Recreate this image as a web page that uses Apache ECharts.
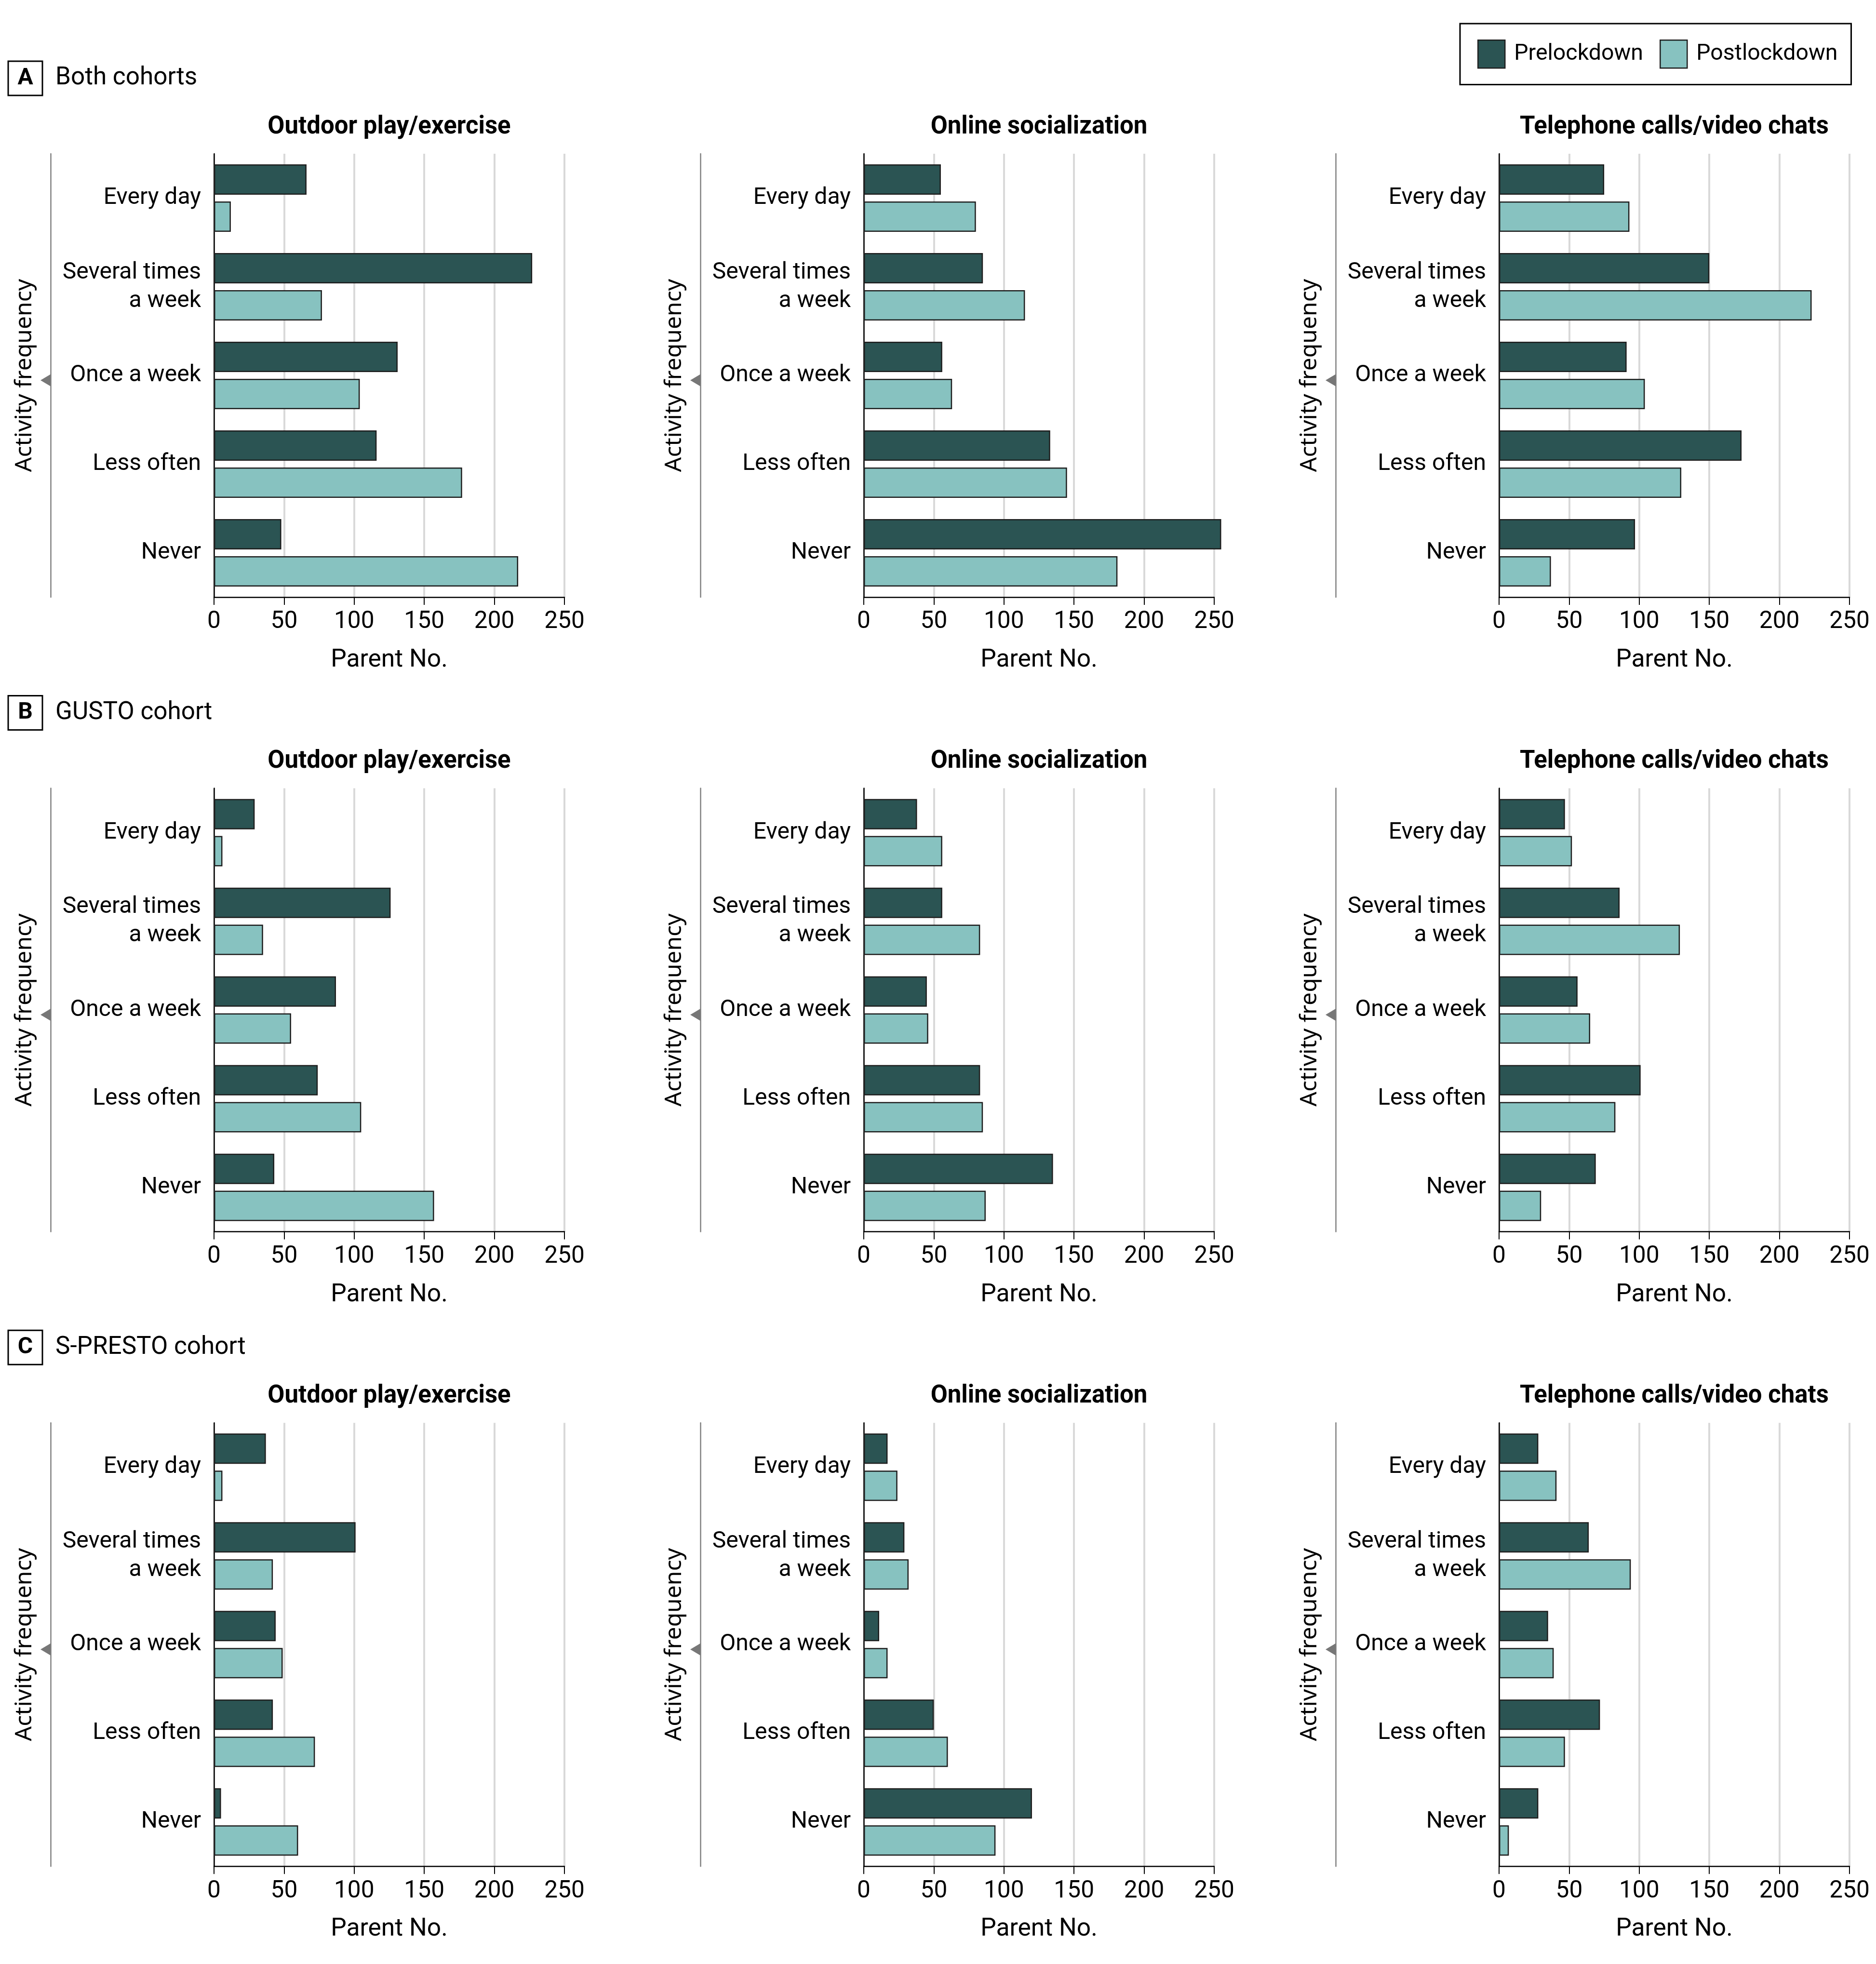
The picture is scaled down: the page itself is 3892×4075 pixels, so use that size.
<!DOCTYPE html>
<html><head><meta charset="utf-8">
<script src="https://cdn.jsdelivr.net/npm/echarts@6/dist/echarts.min.js"></script>
<style>html,body{margin:0;padding:0;background:#fff}#c{width:3892px;height:4075px}</style>
</head><body><div id="c"></div>
<script>
// ---------- data ----------
const categories = ['Every day', 'Several times\na week', 'Once a week', 'Less often', 'Never'];
const activities = ['Outdoor play/exercise', 'Online socialization', 'Telephone calls/video chats'];
const cohortLetters = ['A', 'B', 'C'];
const cohortNames = ['Both cohorts', 'GUSTO cohort', 'S-PRESTO cohort'];
const seriesNames = ['Prelockdown', 'Postlockdown'];
const xTicks = [0, 50, 100, 150, 200, 250];

const bothOutdoorPre   = [66, 227, 131, 116, 48];
const bothOutdoorPost  = [12, 77, 104, 177, 217];
const bothOnlinePre    = [55, 85, 56, 133, 255];
const bothOnlinePost   = [80, 115, 63, 145, 181];
const bothPhonePre     = [75, 150, 91, 173, 97];
const bothPhonePost    = [93, 223, 104, 130, 37];

const gustoOutdoorPre  = [29, 126, 87, 74, 43];
const gustoOutdoorPost = [6, 35, 55, 105, 157];
const gustoOnlinePre   = [38, 56, 45, 83, 135];
const gustoOnlinePost  = [56, 83, 46, 85, 87];
const gustoPhonePre    = [47, 86, 56, 101, 69];
const gustoPhonePost   = [52, 129, 65, 83, 30];

const sprestoOutdoorPre  = [37, 101, 44, 42, 5];
const sprestoOutdoorPost = [6, 42, 49, 72, 60];
const sprestoOnlinePre   = [17, 29, 11, 50, 120];
const sprestoOnlinePost  = [24, 32, 17, 60, 94];
const sprestoPhonePre    = [28, 64, 35, 72, 28];
const sprestoPhonePost   = [41, 94, 39, 47, 7];

const panelData = [
  [[bothOutdoorPre, bothOutdoorPost], [bothOnlinePre, bothOnlinePost], [bothPhonePre, bothPhonePost]],
  [[gustoOutdoorPre, gustoOutdoorPost], [gustoOnlinePre, gustoOnlinePost], [gustoPhonePre, gustoPhonePost]],
  [[sprestoOutdoorPre, sprestoOutdoorPost], [sprestoOnlinePre, sprestoOnlinePost], [sprestoPhonePre, sprestoPhonePost]]
];

// ---------- pick an installed condensed font that has a regular face ----------
const cv = document.createElement('canvas');
const cx = cv.getContext('2d');
function textW(font, t) { cx.font = '10px serif'; cx.font = font; return cx.measureText(t).width; }
const fontCands = [
  ['', "'Liberation Sans Narrow'"],
  ['', "'Noto Sans Condensed'"],
  ['', "'Noto Sans SemiCondensed'"],
  ['', "'Open Sans Condensed'"],
  ['', "'Open Sans SemiCondensed'"],
  ['', "'DejaVu Sans Condensed'"],
  ['semi-condensed', "'Noto Sans'"],
  ['condensed', "'Noto Sans'"],
  ['semi-condensed', "'Open Sans'"],
  ['condensed', "'Open Sans'"],
  ['', "'Roboto'"],
  ['', "'Liberation Sans'"]
];
const probe = 'Several times';
const TARGET_EM = 5.3;
let pick = { st: '', fam: "'Liberation Sans'", score: 1e9 };
for (const [st, fam] of fontCands) {
  const pre = st ? st + ' ' : '';
  const fN = pre + 'normal 100px ' + fam + ', monospace';
  const fB = pre + 'bold 100px ' + fam + ', monospace';
  const mono = textW('normal 100px monospace', probe + 'Wxq');
  const exists = textW(fN, probe + 'Wxq') !== mono;
  if (!exists) continue;
  const hasRegular = Math.abs(textW(fN, probe) - textW(fB, probe)) > 0.5;
  if (!hasRegular) continue;
  const em = textW(fN, probe) / 100;
  const score = Math.abs(em - TARGET_EM);
  if (score < pick.score) pick = { st, fam, score };
}
const FAM = pick.fam + ", 'Liberation Sans', sans-serif";
const FST = pick.st || 'normal';
function fitSize(txt, targetW, weight, lo, hi) {
  const w = textW(FST + ' ' + weight + ' 100px ' + FAM, txt) / 100;
  return Math.max(lo, Math.min(hi, targetW / w));
}
const labelSize  = fitSize('Several times', 271 * 1.06, 'normal', 40, 55);
const tickSize   = fitSize('250', 79 * 1.06, 'normal', 40, 55);
const nameSize   = fitSize('Parent No.', 229 * 1.06, 'normal', 40, 57);
const legendSize = fitSize('Prelockdown', 260 * 1.03, 'normal', 40, 56);
const titleSize  = fitSize('Outdoor play/exercise', 485 * 1.04, 'bold', 40, 56);
const cohortSize = fitSize('Both cohorts', 283 * 1.04, 'normal', 40, 56);
const WIDE = "'Noto Sans','Open Sans',sans-serif";

// ---------- layout / style ----------
const colX = [444, 1792, 3110];
const plotW = 727;
const rowStep = 1316.6;
const plotTop0 = 319;
const plotH = 920;
const colors = ['#2b5453', '#87c2c0'];
const barBorder = '#1e1e1e';
function ts(size, weight) { return { fontSize: size, fontFamily: FAM, fontStyle: FST, fontWeight: weight || 'normal', color: '#000' }; }

const grids = [], xAxes = [], yAxes = [], series = [], titles = [], graphics = [];
let idx = 0;
for (let r = 0; r < 3; r++) {
  const top = plotTop0 + rowStep * r;
  titles.push({
    text: '{box|' + cohortLetters[r] + '}{gap|}{t|' + cohortNames[r] + '}',
    left: 17, top: 126 + rowStep * r, padding: 0,
    textStyle: {
      fontWeight: 'normal',
      rich: {
        box: Object.assign(ts(48, 'bold'), { width: 71, height: 71, lineHeight: 73, align: 'center', borderColor: '#000', borderWidth: 3 }),
        gap: { width: 27 },
        t: ts(cohortSize, 'normal')
      }
    }
  });
  for (let c = 0; c < 3; c++) {
    grids.push({ left: colX[c], top: top, width: plotW, height: plotH, containLabel: false });
    titles.push({
      text: activities[c], left: colX[c] + plotW / 2, top: 262 - 28 + rowStep * r, textAlign: 'center', padding: 0,
      textStyle: Object.assign(ts(titleSize, 'bold'), { lineHeight: 60 })
    });
    xAxes.push({
      gridIndex: idx, type: 'value', min: xTicks[0], max: xTicks[xTicks.length - 1], interval: xTicks[1] - xTicks[0],
      axisLine: { show: true, onZero: false, lineStyle: { color: '#000', width: 2.5 } },
      axisTick: { show: true, length: 16, lineStyle: { color: '#000', width: 2 } },
      axisLabel: Object.assign(ts(tickSize), { margin: 27 }),
      splitLine: { show: true, lineStyle: { color: '#d9d9d9', width: 4 } },
      name: 'Parent No.', nameLocation: 'middle', nameGap: 105,
      nameTextStyle: ts(nameSize)
    });
    yAxes.push({
      gridIndex: idx, type: 'category', data: categories, inverse: true,
      axisLine: { show: true, onZero: false, lineStyle: { color: '#000', width: 2.5 } },
      axisTick: { show: false },
      axisLabel: Object.assign(ts(labelSize), { lineHeight: 59, margin: 27, align: 'right' }),
      splitLine: { show: false }
    });
    yAxes.push({
      gridIndex: idx, type: 'category', data: categories, inverse: true, position: 'left', offset: 339,
      axisLine: { show: true, onZero: false, lineStyle: { color: '#808080', width: 2.5 } },
      axisTick: { show: false }, axisLabel: { show: false }, splitLine: { show: false },
      name: 'Activity frequency', nameLocation: 'middle', nameRotate: 90, nameGap: 30,
      nameTextStyle: { fontSize: 48, color: '#000', fontFamily: WIDE }
    });
    for (let s = 0; s < 2; s++) {
      series.push({
        type: 'bar', name: seriesNames[s], xAxisIndex: idx, yAxisIndex: 2 * idx,
        data: panelData[r][c][s], barWidth: 63, barGap: '22%', clip: false,
        itemStyle: { color: colors[s], borderColor: barBorder, borderWidth: 2.5 },
        emphasis: { disabled: true }
      });
    }
    const lx = colX[c] - 339, my = top + 470;
    graphics.push({
      type: 'polygon', shape: { points: [[lx - 21, my], [lx, my - 12.5], [lx, my + 12.5]] },
      style: { fill: '#777' }, z: 10
    });
    idx++;
  }
}

const chart = echarts.init(document.getElementById('c'), null, { renderer: 'canvas' });
chart.setOption({
  backgroundColor: '#fff',
  animation: false,
  title: titles,
  legend: {
    left: 3029, top: 49, width: 850, orient: 'horizontal', data: seriesNames, selectedMode: false,
    itemWidth: 56, itemHeight: 58, itemGap: 34, padding: [33, 28, 33, 36],
    borderColor: '#000', borderWidth: 3, backgroundColor: '#fff', icon: 'rect',
    itemStyle: { borderColor: barBorder, borderWidth: 2.5 },
    textStyle: Object.assign(ts(legendSize), { padding: [0, 0, 0, 14] })
  },
  grid: grids, xAxis: xAxes, yAxis: yAxes, series: series, graphic: graphics
});
</script></body></html>
